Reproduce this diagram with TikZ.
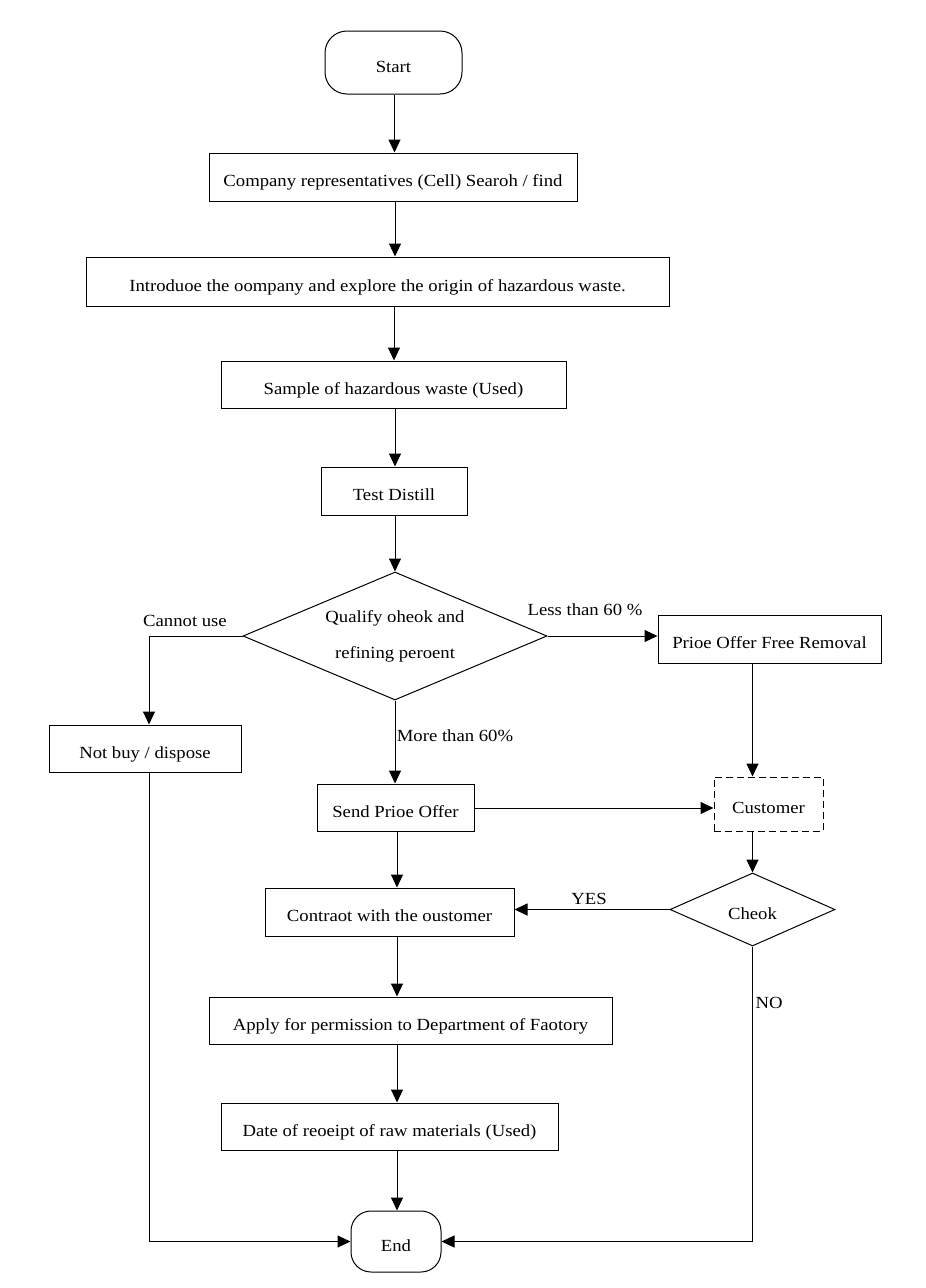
\documentclass[tikz,border=0pt]{standalone}
\usepackage{fontspec}
\setmainfont{Liberation Serif}[FakeStretch=1.1]
\usetikzlibrary{arrows.meta,shapes.geometric}
\begin{document}
\begin{tikzpicture}[x=1pt,y=-1pt,
  every node/.style={font=\fontsize{17}{20}\selectfont},
  tx/.style={text height=19pt,text depth=0pt},
  box/.style={draw,line width=1pt,rectangle,inner sep=0pt,tx},
  term/.style={draw,line width=1pt,rounded corners=22pt,inner sep=0pt,tx},
  dia/.style={draw,line width=1pt,diamond,inner sep=0pt},
  conn/.style={line width=1pt,-{Triangle[length=13pt,width=12pt]}},
  lbl/.style={inner sep=1pt}]
\useasboundingbox (0,0) rectangle (926,1288);
\node[term,minimum width=137pt,minimum height=63pt] (start) at (393.5,62.5) {Start};
\node[box,minimum width=368pt,minimum height=48pt] (b1) at (393,177) {Company representatives (Cell) Searoh / find};
\node[box,minimum width=583pt,minimum height=49pt] (b2) at (377.5,281.5) {Introduoe the oompany and explore the origin of hazardous waste.};
\node[box,minimum width=345pt,minimum height=47pt] (b3) at (393.5,384.5) {Sample of hazardous waste (Used)};
\node[box,minimum width=146pt,minimum height=48pt] (b4) at (394,491) {Test Distill};
\node[dia,aspect=2.375,minimum width=304pt,minimum height=128pt] (d1) at (395,636) {};
\node[align=center] (d1t) at (395,636) {Qualify oheok and\\[16pt]refining peroent};
\node[box,minimum width=192pt,minimum height=47pt] (nb) at (145,748.5) {Not buy / dispose};
\node[box,minimum width=223pt,minimum height=48pt] (pf) at (769.5,639) {Prioe Offer Free Removal};
\node[box,dashed,dash pattern=on 7pt off 4pt,minimum width=109pt,minimum height=54pt] (cu) at (768.5,804) {Customer};
\node[box,minimum width=157pt,minimum height=47pt] (sp) at (395.5,807.5) {Send Prioe Offer};
\node[dia,aspect=2.26,minimum width=165pt,minimum height=73pt] (ck) at (752.5,909.5) {};
\node[tx] (ckt) at (752.5,909.5) {Cheok};
\node[box,minimum width=249pt,minimum height=48pt] (ct) at (389.5,912) {Contraot with the oustomer};
\node[box,minimum width=403pt,minimum height=47pt] (ap) at (410.5,1020.5) {Apply for permission to Department of Faotory};
\node[box,minimum width=337pt,minimum height=47pt] (dt) at (389.5,1126.5) {Date of reoeipt of raw materials (Used)};
\node[term,rounded corners=20pt,minimum width=90pt,minimum height=61pt] (end) at (396,1241.5) {End};
\coordinate (cl) at (149,636);
\coordinate (bl) at (149,1241.5);
\coordinate (br) at (752.5,1241.5);
% connectors
\draw[conn] (start.south -| 394.5,0) -- (b1.north -| 394.5,0);
\draw[conn] (b1.south -| 395,0) -- (b2.north -| 395,0);
\draw[conn] (b2.south -| 394,0) -- (b3.north -| 394,0);
\draw[conn] (b3.south -| 395,0) -- (b4.north -| 395,0);
\draw[conn] (b4.south -| 395,0) -- (d1.north);
\draw[conn] (d1.west) -- (cl) -- (nb.north -| cl);
\draw[conn] (d1.east) -- (pf.west |- d1.east);
\draw[conn] (pf.south -| 752.5,0) -- (cu.north -| 752.5,0);
\draw[conn] (d1.south) -- (sp.north -| d1.south);
\draw[conn] (sp.east |- 0,808) -- (cu.west |- 0,808);
\draw[conn] (cu.south -| ck.north) -- (ck.north);
\draw[conn] (ck.west) -- (ct.east |- ck.west);
\draw[conn] (sp.south -| 397,0) -- (ct.north -| 397,0);
\draw[conn] (ct.south -| 397,0) -- (ap.north -| 397,0);
\draw[conn] (ap.south -| 397,0) -- (dt.north -| 397,0);
\draw[conn] (dt.south -| 397,0) -- (end.north -| 397,0);
\draw[conn] (nb.south -| bl) -- (bl) -- (end.west);
\draw[conn] (ck.south) -- (br) -- (end.east);
% labels
\node[lbl] (l1) at (185,621) {Cannot use};
\node[lbl] (l2) at (585,610) {Less than 60 \%};
\node[lbl] (l3) at (455,736) {More than 60\%};
\node[lbl] (l4) at (589,899) {YES};
\node[lbl] (l5) at (769,1003) {NO};
\end{tikzpicture}
\end{document}
